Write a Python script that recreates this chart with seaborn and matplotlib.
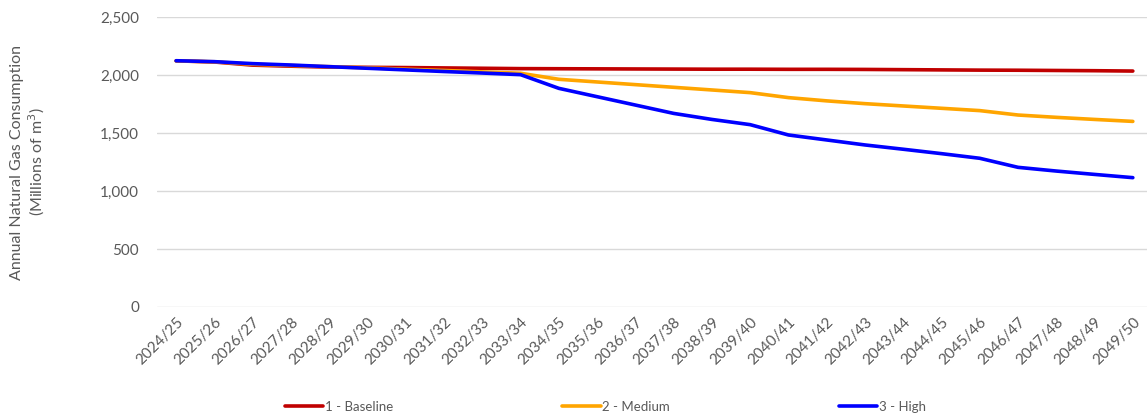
import matplotlib
matplotlib.use("Agg")
import matplotlib.pyplot as plt
import seaborn as sns
import pandas as pd
from matplotlib.ticker import FuncFormatter, MultipleLocator
from matplotlib.lines import Line2D

years = ["2024/25", "2025/26", "2026/27", "2027/28", "2028/29", "2029/30", "2030/31",
         "2031/32", "2032/33", "2033/34", "2034/35", "2035/36", "2036/37", "2037/38",
         "2038/39", "2039/40", "2040/41", "2041/42", "2042/43", "2043/44", "2044/45",
         "2045/46", "2046/47", "2047/48", "2048/49", "2049/50"]
baseline = [2122, 2112, 2085, 2076, 2068, 2066, 2064, 2061, 2058, 2055, 2054, 2053, 2052,
            2051, 2050, 2050, 2049, 2049, 2048, 2046, 2044, 2042, 2041, 2039, 2037, 2034]
medium = [2122, 2114, 2092, 2082, 2072, 2062, 2050, 2039, 2027, 2015, 1963, 1940, 1917,
          1894, 1871, 1848, 1805, 1777, 1753, 1733, 1713, 1693, 1655, 1635, 1617, 1600]
high = [2123, 2115, 2098, 2086, 2072, 2058, 2044, 2030, 2017, 2003, 1885, 1813, 1741,
        1669, 1617, 1572, 1483, 1440, 1397, 1360, 1322, 1282, 1204, 1172, 1143, 1115]
series_names = ["1 - Baseline", "2 - Medium", "3 - High"]
colors = ["#C00000", "#FFA500", "#0000FF"]

df = pd.DataFrame({
    "year": years * 3,
    "value": baseline + medium + high,
    "scenario": [series_names[0]] * 26 + [series_names[1]] * 26 + [series_names[2]] * 26,
})
df["x"] = df["year"].map({y: i for i, y in enumerate(years)})

sns.set_theme(style="white")
plt.rcParams["font.family"] = ["Lato", "DejaVu Sans"]
text_color = "#595959"

fig = plt.figure(figsize=(11.47, 4.16), dpi=100)
ax = fig.add_axes([157 / 1147, 1 - 307 / 416, (1147 - 157) / 1147, (307 - 17) / 416])

sns.lineplot(data=df, x="x", y="value", hue="scenario", palette=dict(zip(series_names, colors)),
             linewidth=2.6, ax=ax, legend=False, sort=False)

ax.set_xlim(-0.5, 25.37)
ax.set_ylim(0, 2500)
ax.yaxis.set_major_locator(MultipleLocator(500))
ax.yaxis.set_major_formatter(FuncFormatter(lambda v, p: f"{int(v):,}"))
ax.set_xticks(range(len(years)))
ax.set_xticklabels(years, rotation=45, ha="right", rotation_mode="anchor",
                   fontsize=11, color=text_color)
ax.tick_params(axis="y", labelsize=11, colors=text_color, length=0, pad=13)
ax.tick_params(axis="x", length=0, pad=6)
ax.grid(axis="y", color="#D9D9D9", linewidth=1)
ax.set_axisbelow(True)
for s in ax.spines.values():
    s.set_visible(False)
ax.set_xlabel("")
ax.set_ylabel("Annual Natural Gas Consumption\n(Millions of m$^3$)", fontsize=11.5,
              color=text_color, linespacing=1.15)
ax.yaxis.set_label_coords(-0.111, 0.5)

handles = [Line2D([0], [0], color=c, linewidth=2.6) for c in colors]
fig.legend(handles, series_names, loc="center", bbox_to_anchor=(0.528, 0.022), ncol=3,
           frameon=False, fontsize=9.5, labelcolor=text_color, handlelength=2.9,
           handletextpad=0.15, columnspacing=12.8)

fig.savefig("out.png", dpi=100)
